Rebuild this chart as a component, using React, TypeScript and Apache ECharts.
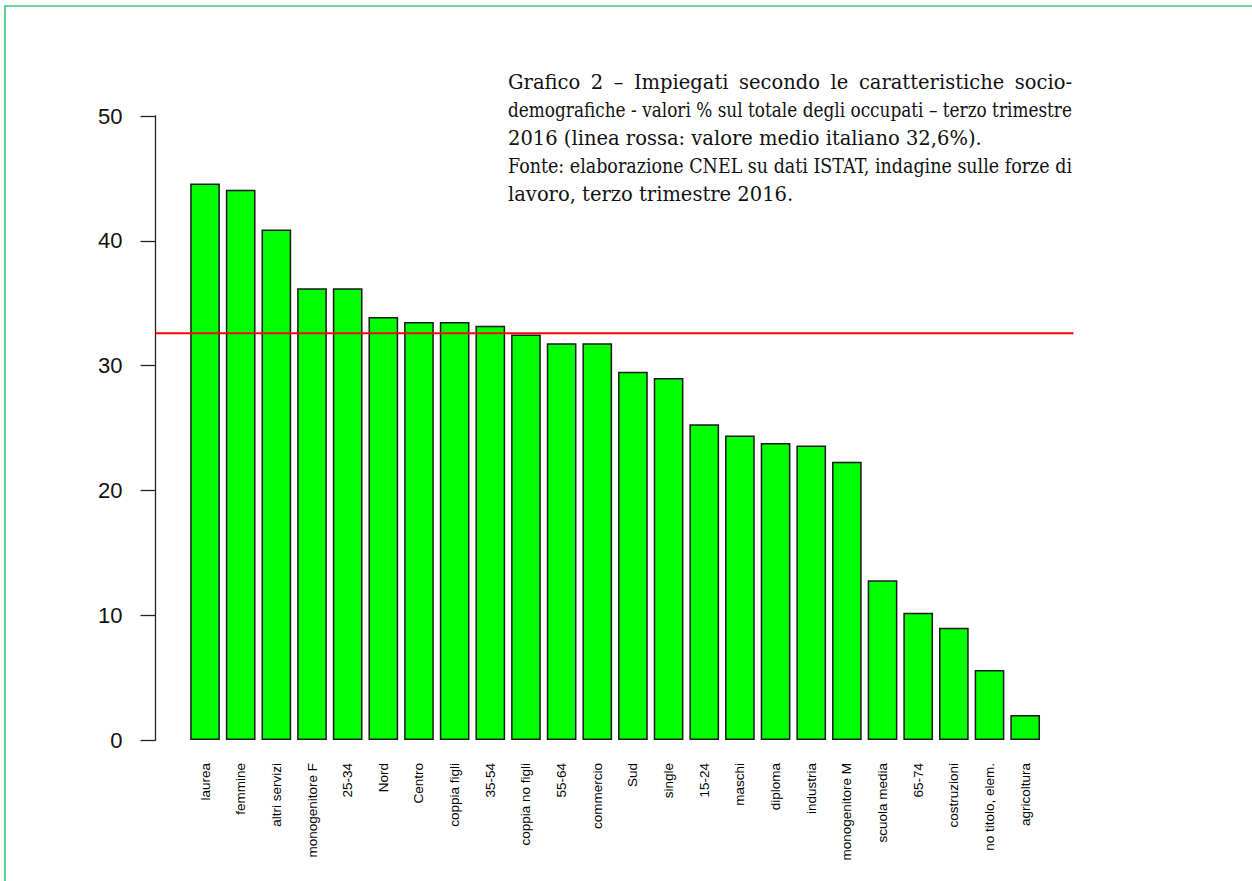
import React, { useEffect, useRef } from "react";
import * as echarts from "echarts";

const categories: string[] = [
  "laurea", "femmine", "altri servizi", "monogenitore F", "25-34", "Nord",
  "Centro", "coppia figli", "35-54", "coppia no figli", "55-64", "commercio",
  "Sud", "single", "15-24", "maschi", "diploma", "industria",
  "monogenitore M", "scuola media", "65-74", "costruzioni", "no titolo, elem.", "agricoltura",
];

const values: number[] = [
  44.6, 44.1, 40.9, 36.2, 36.2, 33.9,
  33.5, 33.5, 33.2, 32.5, 31.8, 31.8,
  29.5, 29.0, 25.3, 24.4, 23.8, 23.6,
  22.3, 12.8, 10.2, 9.0, 5.6, 2.0,
];

const averageValue = 32.6;
const yTicks: number[] = [0, 10, 20, 30, 40, 50];

const titleLines: { text: string; justify: boolean }[] = [
  { text: "Grafico 2 – Impiegati secondo le caratteristiche socio-", justify: true },
  { text: "demografiche - valori % sul totale degli occupati – terzo trimestre", justify: true },
  { text: "2016 (linea rossa: valore medio italiano 32,6%).", justify: false },
  { text: "Fonte: elaborazione CNEL su dati ISTAT, indagine sulle forze di", justify: true },
  { text: "lavoro, terzo trimestre 2016.", justify: false },
];

const TITLE_FONT_FAMILY = "DejaVu Serif";
const TITLE_FONT_SIZE = 19.5;
const TITLE_LEFT = 508;
const TITLE_RIGHT = 1072;
const TITLE_TOP = 82;
const TITLE_LINE_H = 28;

function textWidth(s: string): number {
  const t = new (echarts.graphic as any).Text({
    style: { text: s, fontFamily: TITLE_FONT_FAMILY, fontSize: TITLE_FONT_SIZE },
  });
  return t.getBoundingRect().width;
}

function buildTitle(): any[] {
  const els: any[] = [];
  const spaceW = Math.max(3, textWidth("a a") - textWidth("aa"));
  const avail = TITLE_RIGHT - TITLE_LEFT;
  titleLines.forEach((line, i) => {
    const y = TITLE_TOP + i * TITLE_LINE_H;
    const style = {
      fill: "#111",
      fontFamily: TITLE_FONT_FAMILY,
      fontSize: TITLE_FONT_SIZE,
      verticalAlign: "middle",
      align: "left",
    } as any;
    if (!line.justify) {
      els.push({ type: "text", x: TITLE_LEFT, y, style: { ...style, text: line.text } });
      return;
    }
    const words = line.text.split(" ");
    const widths = words.map((w) => textWidth(w));
    const total = widths.reduce((a, b) => a + b, 0);
    const natural = total + spaceW * (words.length - 1);
    let s = 1;
    let gap = (avail - total) / (words.length - 1);
    if (natural > avail) {
      s = avail / natural;
      gap = spaceW * s;
    }
    let x = TITLE_LEFT;
    words.forEach((w, j) => {
      els.push({ type: "text", x, y, scaleX: s, style: { ...style, text: w } });
      x += widths[j] * s + gap;
    });
  });
  return els;
}

export default function App() {
  const ref = useRef<HTMLDivElement | null>(null);

  useEffect(() => {
    if (!ref.current) return;
    const chart = echarts.init(ref.current, undefined, { renderer: "svg" });
    const W = 1252;
    const H = 881;
    const plotTop = 116;
    const plotBottom = 740;
    const barLeft = 187.2;
    const barRight = 1043;
    const lineLeft = 155.5;
    const lineRight = 1073.5;

    const option: any = {
      animation: false,
      backgroundColor: "#ffffff",
      grid: [
        { left: barLeft, right: W - barRight, top: plotTop, bottom: H - plotBottom, containLabel: false },
        { left: lineLeft, right: W - lineRight, top: plotTop, bottom: H - plotBottom, containLabel: false },
      ],
      xAxis: [
        {
          type: "category",
          gridIndex: 0,
          data: categories,
          boundaryGap: true,
          axisLine: { show: false },
          axisTick: { show: false },
          axisLabel: {
            interval: 0,
            rotate: 90,
            margin: 23,
            fontFamily: "Liberation Sans",
            fontSize: 13.5,
            color: "#000",
          },
          splitLine: { show: false },
        },
        {
          type: "value",
          gridIndex: 1,
          min: 0,
          max: 1,
          show: false,
        },
      ],
      yAxis: [
        {
          type: "value",
          gridIndex: 0,
          min: 0,
          max: 50,
          interval: 10,
          offset: barLeft - lineLeft,
          axisLine: { show: true, lineStyle: { color: "#222", width: 1.3 } },
          axisTick: { show: true, length: 15, lineStyle: { color: "#222", width: 1.3 } },
          axisLabel: {
            margin: 33,
            fontFamily: "Liberation Sans",
            fontSize: 22,
            color: "#111",
            formatter: (v: number) => (yTicks.includes(v) ? String(v) : ""),
          },
          splitLine: { show: false },
        },
        {
          type: "value",
          gridIndex: 1,
          min: 0,
          max: 50,
          show: false,
        },
      ],
      series: [
        {
          type: "bar",
          xAxisIndex: 0,
          yAxisIndex: 0,
          data: values,
          barCategoryGap: "16.7%",
          itemStyle: { color: "#00ff00", borderColor: "#1a1a1a", borderWidth: 1.5 },
          z: 2,
        },
        {
          type: "line",
          xAxisIndex: 1,
          yAxisIndex: 1,
          data: [[0, averageValue], [1, averageValue]],
          symbol: "none",
          lineStyle: { color: "#ff0000", width: 2 },
          z: 5,
        },
      ],
      graphic: [
        {
          type: "rect",
          shape: { x: 5, y: 6, width: 1300, height: 950 },
          style: { fill: "none", stroke: "#3cc878", lineWidth: 1.6 },
          silent: true,
        },
        ...buildTitle(),
      ],
    };
    chart.setOption(option);
    return () => chart.dispose();
  }, []);

  return (
    <div
      ref={ref}
      style={{ position: "absolute", left: 0, top: 0, width: 1252, height: 881, background: "#fff" }}
    />
  );
}
